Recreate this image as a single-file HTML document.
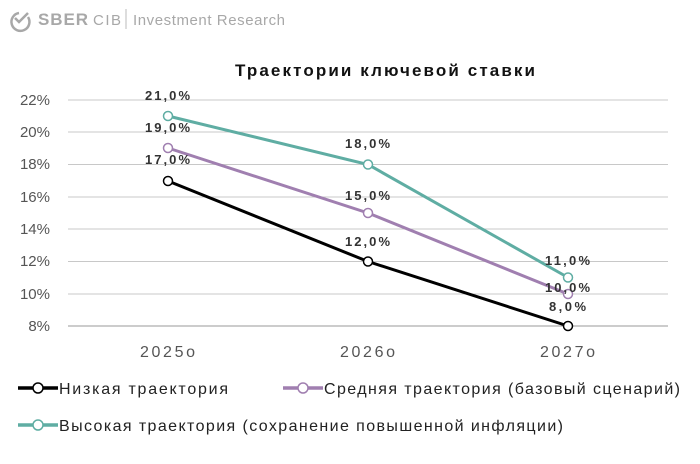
<!DOCTYPE html>
<html><head><meta charset="utf-8"><style>
body{margin:0;background:#fff;width:700px;height:459px;overflow:hidden;font-family:"Liberation Sans","DejaVu Sans",sans-serif}
</style></head><body>
<svg width="700" height="459" xmlns="http://www.w3.org/2000/svg" font-family="Liberation Sans, DejaVu Sans, sans-serif">
<g fill="none" stroke="#a8a8a8" stroke-width="2.5"><path d="M19 13 A9 9 0 1 0 28 17"/><path d="M15 18 l4 4 l9 -9"/></g>
<text x="38" y="25" font-size="17" font-weight="bold" fill="#a8a8a8" textLength="50">SBER</text>
<text x="93" y="25" font-size="15" fill="#a8a8a8" textLength="28">CIB</text>
<line x1="126" y1="9" x2="126" y2="29" stroke="#bbb"/>
<text x="133" y="25" font-size="15" fill="#a8a8a8" textLength="152">Investment Research</text>
<text x="235" y="76" font-size="17" font-weight="bold" fill="#111" textLength="300">Траектории ключевой ставки</text>
<g stroke="#c8c8c8" stroke-width="1">
<line x1="68" x2="668" y1="100" y2="100"/><line x1="68" x2="668" y1="132" y2="132"/><line x1="68" x2="668" y1="164.5" y2="164.5"/><line x1="68" x2="668" y1="197" y2="197"/><line x1="68" x2="668" y1="229" y2="229"/><line x1="68" x2="668" y1="261.5" y2="261.5"/><line x1="68" x2="668" y1="294" y2="294"/><line x1="68" x2="668" y1="326" y2="326" stroke="#999"/>
</g>
<g font-size="15" fill="#555" text-anchor="end">
<text x="50" y="105">22%</text><text x="50" y="137">20%</text><text x="50" y="169">18%</text><text x="50" y="202">16%</text><text x="50" y="234">14%</text><text x="50" y="266">12%</text><text x="50" y="299">10%</text><text x="50" y="331">8%</text>
</g>
<g font-size="16" fill="#555">
<text x="140" y="357" textLength="55">2025о</text><text x="340" y="357" textLength="55">2026о</text><text x="540" y="357" textLength="55">2027о</text>
</g>
<polyline points="168,181 368,261.5 568,326" fill="none" stroke="#000" stroke-width="3"/>
<polyline points="168,148 368,213 568,294" fill="none" stroke="#a07fb0" stroke-width="3"/>
<polyline points="168,116 368,164.5 568,277.5" fill="none" stroke="#5fada3" stroke-width="3"/>
<g fill="#fff" stroke-width="1.5">
<circle cx="168" cy="181" r="4.5" stroke="#000"/><circle cx="368" cy="261.5" r="4.5" stroke="#000"/><circle cx="568" cy="326" r="4.5" stroke="#000"/>
<circle cx="168" cy="148" r="4.5" stroke="#a07fb0"/><circle cx="368" cy="213" r="4.5" stroke="#a07fb0"/><circle cx="568" cy="294" r="4.5" stroke="#a07fb0"/>
<circle cx="168" cy="116" r="4.5" stroke="#5fada3"/><circle cx="368" cy="164.5" r="4.5" stroke="#5fada3"/><circle cx="568" cy="277.5" r="4.5" stroke="#5fada3"/>
</g>
<g font-size="13" font-weight="bold" fill="#333">
<text x="145" y="100" textLength="45">21,0%</text><text x="145" y="132" textLength="45">19,0%</text><text x="145" y="164" textLength="45">17,0%</text>
<text x="345" y="148" textLength="45">18,0%</text><text x="345" y="200" textLength="45">15,0%</text><text x="345" y="246" textLength="45">12,0%</text>
<text x="545" y="265" textLength="45">11,0%</text><text x="545" y="292" textLength="45">10,0%</text><text x="549" y="311" textLength="37">8,0%</text>
</g>
<g stroke-width="3.5"><line x1="18" x2="58" y1="388" y2="388" stroke="#000"/><line x1="283" x2="323" y1="388" y2="388" stroke="#a07fb0"/><line x1="18" x2="58" y1="425" y2="425" stroke="#5fada3"/></g>
<g fill="#fff" stroke-width="1.5"><circle cx="38" cy="388" r="5" stroke="#000"/><circle cx="303" cy="388" r="5" stroke="#a07fb0"/><circle cx="38" cy="425" r="5" stroke="#5fada3"/></g>
<g font-size="16" fill="#222">
<text x="59" y="394" textLength="169">Низкая траектория</text>
<text x="324" y="394" textLength="356">Средняя траектория (базовый сценарий)</text>
<text x="59" y="431" textLength="504">Высокая траектория (сохранение повышенной инфляции)</text>
</g>
</svg>
</body></html>
